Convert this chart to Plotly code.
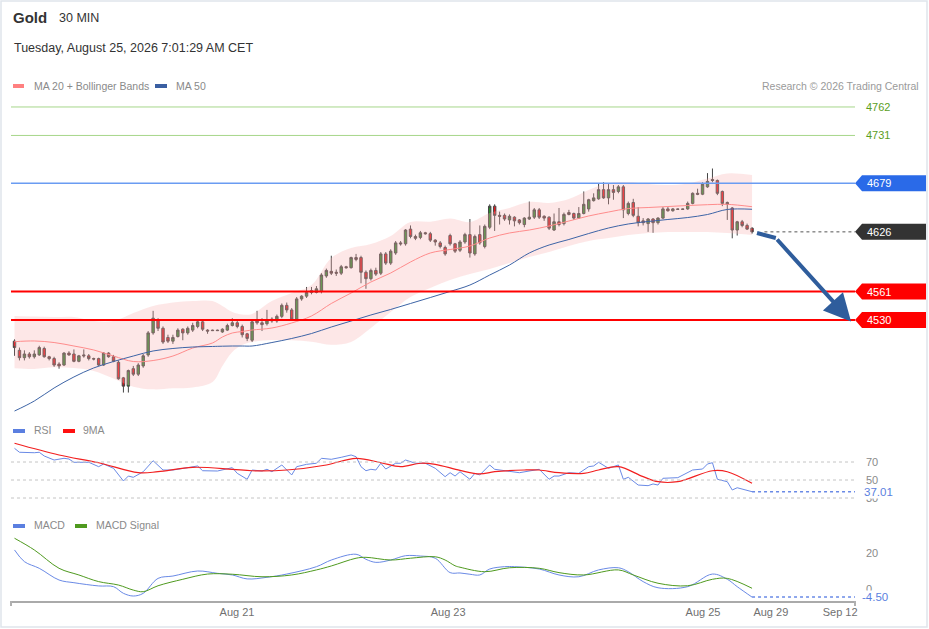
import plotly.graph_objects as go

# ---------------- data ----------------
candle_idx = list(range(150))
opens = [4507,4497,4489,4493,4490,4492,4499,4490,4488,4482,
         4481,4494,4493,4485,4492,4491,4488,4488,4481,4494,
         4490,4484,4467,4458,4477,4471,4480,4492,4516,4530,
         4521,4511,4507,4512,4520,4516,4519,4523,4528,4519,
         4519,4519,4517,4519,4524,4527,4523,4515,4508,4529,
         4527,4526,4531,4529,4534,4546,4541,4531,4553,4556,
         4562,4560,4561,4578,4583,4582,4581,4588,4587,4598,
         4598,4582,4575,4584,4581,4602,4592,4603,4614,4613,
         4629,4621,4620,4625,4624,4617,4614,4609,4622,4613,
         4606,4615,4623,4602,4623,4610,4631,4654,4644,4644,
         4639,4642,4639,4634,4640,4642,4650,4643,4642,4628,
         4637,4635,4647,4646,4641,4646,4651,4660,4662,4672,
         4663,4672,4670,4675,4646,4658,4643,4638,4635,4640,
         4636,4641,4651,4649,4651,4651,4651,4657,4668,4667,
         4675,4683,4682,4670,4658,4652,4628,4637,4633,4630]
highs = [4509,4500,4497,4495,4497,4502,4501,4491,4490,4484,
         4495,4496,4498,4492,4498,4493,4489,4489,4495,4495,
         4492,4486,4468,4476,4480,4483,4493,4518,4540,4532,
         4523,4514,4514,4521,4521,4523,4527,4531,4529,4520,
         4519.5,4519.5,4521,4526,4532,4530,4525,4516,4530,4540,
         4532,4541,4533,4536,4548,4549,4543,4555,4557,4566,
         4566,4567,4581,4586,4600,4585,4590,4589,4599,4602,
         4600,4584,4586,4587,4604,4604,4607,4616,4616,4629,
         4633,4623,4627,4626,4626,4618,4616,4611,4624,4614,
         4617,4625,4640,4623,4633,4634,4656,4656,4648,4646,
         4645,4643,4640,4642,4659,4652,4652,4644,4643,4646,
         4652,4647,4650,4647,4653,4670,4662,4668,4679,4680,
         4678,4677,4677,4677,4659,4662,4653,4641,4641,4641,
         4642,4653,4653,4652,4651.5,4651.5,4659,4669,4673,4680,
         4690,4695,4683,4671,4659,4653,4638,4639,4635,4631]
lows = [4491,4486,4486,4488,4488,4491,4489,4486,4479,4477,
        4480,4491,4484,4484,4489,4486,4486,4480,4480,4489,
        4484,4465,4451,4451,4469,4469,4478,4490,4514,4518,
        4504,4505,4504,4511,4508,4514,4517,4521,4518,4515,
        4518,4518,4516,4518,4523,4521,4511,4507,4506,4525,
        4518,4524,4527,4527,4532,4538,4529,4529,4551,4554,
        4558,4559,4559,4576,4579,4578,4579,4586,4586,4594,
        4570,4564,4573,4578,4579,4590,4590,4601,4611,4611,
        4619,4617,4618,4623,4615,4611,4608,4600,4611,4603,
        4604,4613,4598,4600,4612,4608,4629,4627,4634,4638,
        4634,4632,4634,4631,4639,4640,4640,4638,4628,4627,
        4632,4633,4644,4639,4640,4645,4648,4659,4661,4662,
        4656,4661,4668,4641,4644,4642,4632,4633,4626,4625,
        4634,4640,4648,4648,4650,4650,4650,4656,4666,4666,
        4674,4680,4666,4654,4639,4619,4622,4631,4628,4624]
closes = [4500,4489,4493,4490,4493,4500,4490,4488,4481,4480,
          4494,4492,4485,4491,4491,4488,4487.5,4481,4494,4490,
          4485,4466,4458,4475,4471,4481,4491,4516,4532,4521,
          4506,4507,4511,4519,4516,4521,4524,4528,4520,4518,
          4518.5,4518.5,4520,4524,4527,4523,4514,4510,4528,4527,
          4525,4530,4529,4534,4546,4541,4531,4553,4556,4560,
          4560,4564,4579,4584,4581,4581,4588,4587,4598,4596,
          4582,4575,4584,4580,4602,4592,4605,4614,4613,4628,
          4621,4619,4625,4624,4617,4615,4610,4602,4613,4605,
          4615,4623,4603,4621,4614,4632,4654,4644,4643,4640,
          4643,4638,4636,4641,4642,4650,4642,4641,4630,4637,
          4634,4645,4645,4641,4646,4656,4661,4663,4672,4663,
          4672,4669,4675,4650,4657,4644,4636,4636,4640,4636,
          4641,4651,4649,4651,4650.5,4650.5,4657,4668,4667,4678,
          4681,4682,4668,4657,4656,4628,4637,4633,4629,4626]

band_idx = [0, 4, 8, 12, 16, 20, 24, 28, 32, 36, 40, 42, 44, 46, 48, 52, 56, 60, 64, 68,
            72, 76, 80, 84, 88, 92, 96, 100, 104, 108, 112, 116, 120, 124, 128, 132, 136, 140, 144, 149]
bb_upper = [4534.4, 4533.8, 4533.3, 4533.3, 4528.9, 4528.9, 4537.6, 4545.3, 4549.1, 4550.7,
            4550.7, 4545.3, 4538.7, 4536.0, 4536.6, 4550.7, 4559.4, 4568.1, 4597.5, 4608.4,
            4612.8, 4621.5, 4636.7, 4637.1, 4640.6, 4636.7, 4646.5, 4652.0, 4658.5, 4657.4,
            4661.8, 4671.6, 4679.2, 4680.3, 4678.1, 4677.0, 4678.7, 4684.1, 4689.6, 4687.9]
ma20 = [4506.4, 4507.2, 4505.5, 4501.7, 4497.4, 4490.8, 4484.8, 4485.9, 4490.8, 4499.5,
        4505.0, 4511.5, 4515.9, 4517.5, 4519.1, 4521.3, 4526.8, 4534.4, 4548.0, 4559.4,
        4571.4, 4581.2, 4593.2, 4603.0, 4606.8, 4610.6, 4619.3, 4624.8, 4628.0, 4632.4,
        4637.8, 4643.3, 4647.6, 4651.4, 4652.5, 4653.6, 4654.7, 4655.6, 4656.0, 4653.4]
bb_lower = [4477.4, 4476.7, 4478.5, 4477.7, 4474.5, 4466.3, 4457.4, 4454.5, 4455.6, 4456.5,
            4462.5, 4479.9, 4495.2, 4502.8, 4506.1, 4508.2, 4507.9, 4506.4, 4503.1, 4506.2,
            4521.3, 4538.7, 4555.1, 4564.9, 4573.6, 4580.1, 4585.6, 4592.1, 4598.6, 4604.1,
            4610.6, 4616.1, 4619.3, 4622.6, 4624.8, 4625.9, 4625.9, 4625.9, 4624.8, 4622.6]
ma50 = [4430.9, 4441.8, 4456.0, 4468.0, 4477.8, 4484.8, 4490.8, 4496.3, 4499.0, 4500.6,
        4501.2, 4501.5, 4501.7, 4501.7, 4501.7, 4505.5, 4509.9, 4515.3, 4522.4, 4528.9,
        4535.5, 4541.5, 4548.0, 4554.5, 4561.1, 4568.1, 4579.0, 4589.9, 4603.0, 4611.7,
        4617.7, 4624.2, 4630.2, 4634.6, 4637.3, 4639.5, 4641.6, 4644.9, 4650.4, 4650.6]

rsi_idx = [0, 1, 4, 5, 6, 8, 10, 11, 12, 15, 17, 18, 20, 22, 23, 24, 26, 28, 30, 32,
           35, 37, 38, 41, 44, 45, 47, 48, 50, 51, 52, 54, 56, 57, 59, 61, 62, 64, 66, 68,
           69, 70, 71, 72, 73, 74, 75, 77, 78, 79, 81, 83, 85, 87, 88, 89, 90, 92, 93, 94,
           96, 97, 102, 106, 108, 109, 110, 112, 114, 116, 117, 118, 120, 122, 123, 124, 126, 128, 129, 130,
           131, 134, 137, 139, 140, 141, 142, 144, 145, 146, 149]
rsi_vals = [85.2, 80.8, 80.3, 80.8, 76.7, 72.2, 74.1, 73.3, 69.7, 69.7, 64.8, 67.8, 63.0, 48.9, 54.4, 53.0, 59.2, 71.4, 61.1, 61.1,
            63.7, 65.6, 60.3, 60.0, 63.7, 57.4, 50.8, 61.1, 60.0, 61.9, 59.2, 66.7, 55.6, 64.8, 67.4, 68.6, 74.1, 73.0, 75.2, 77.8,
            75.9, 64.8, 60.3, 61.9, 61.1, 68.6, 62.2, 68.6, 68.6, 72.2, 68.6, 68.6, 63.0, 53.7, 58.1, 54.4, 59.2, 50.8, 57.4, 55.6,
            66.7, 61.9, 58.1, 61.9, 50.8, 54.4, 54.4, 58.1, 57.4, 64.8, 65.6, 69.7, 63.0, 66.7, 50.8, 53.0, 44.4, 43.7, 45.6, 44.4,
            51.9, 52.6, 61.1, 62.2, 67.8, 69.2, 50.8, 48.1, 38.9, 41.4, 37.01]
rsi_ma_idx = [0, 9, 17, 25, 29, 36, 44, 48, 55, 63, 69, 74, 78, 82, 85, 90, 94, 97, 103, 106,
              110, 115, 118, 122, 127, 130, 134, 141, 144, 149]
rsi_ma_vals = [90.8, 77.8, 69.2, 58.1, 59.2, 64.1, 61.9, 60.3, 61.1, 66.7, 74.1, 69.2, 64.8, 68.6, 67.4, 60.7, 56.7, 59.2, 61.1, 61.1,
               58.1, 57.4, 61.1, 64.8, 53.7, 48.1, 48.1, 60.3, 59.2, 46.3]

macd_idx = [0, 2, 5, 9, 12, 17, 20, 22, 24, 26, 29, 32, 37, 41, 44, 47, 51, 55, 61, 64,
            69, 71, 73, 76, 79, 82, 85, 88, 90, 92, 94, 96, 99, 101, 106, 110, 114, 118, 122, 124,
            127, 130, 136, 141, 144, 146, 149]
macd_vals = [21.7, 15.2, 11.5, 5.0, 3.5, 1.7, 1.3, -2.4, -3.9, -2.4, 5.9, 7.2, 10.0, 8.7, 7.8, 5.6, 6.5, 8.3, 12.4, 16.1,
             19.3, 16.5, 14.8, 16.1, 18.5, 18.3, 17.1, 9.1, 8.9, 8.2, 7.8, 11.1, 12.4, 12.4, 11.1, 7.8, 6.8, 10.6, 11.8, 9.6,
             4.1, 0.7, 1.3, 8.3, 5.4, 1.3, -4.5]
signal_idx = [0, 4, 9, 13, 17, 21, 24, 26, 29, 34, 39, 44, 50, 56, 61, 64, 69, 71, 76, 80,
              85, 87, 89, 90, 95, 100, 106, 110, 115, 122, 125, 130, 136, 141, 144, 149]
signal_vals = [28.2, 21.7, 11.5, 7.8, 4.1, 2.2, -0.6, -1.5, 1.8, 5.4, 8.3, 8.2, 6.8, 7.8, 10.6, 12.8, 17.1, 17.6, 16.1, 17.1,
               17.9, 16.1, 12.9, 12.1, 9.6, 11.8, 11.5, 9.1, 7.8, 10.6, 7.8, 3.2, 1.8, 5.4, 5.9, 0.4]

resistance_levels = [4762, 4731]
pivot_level = 4679
last_price = 4626
support_levels = [4561, 4530]
rsi_last = 37.01
macd_last = -4.50
rsi_levels = [70, 50, 30]

forecast_x = [150.0, 153.8, 169.0]
forecast_y = [4624.8, 4619.3, 4528.5]

tick_pos = [44.95, 87.6, 139.1, 152.8, 166.8]
tick_text = ["Aug 21", "Aug 23", "Aug 25", "Aug 29", "Sep 12"]
x_range = [-0.71, 169.8]

# ---------------- layout helpers (pixel -> paper) ----------------
W, H = 929, 629
ML, MR, MT, MB = 11, 74, 60, 28
PW, PH = W - ML - MR, H - MT - MB
def pxx(px):
    return (px - ML) / PW
def pxy(py):
    return (H - MB - py) / PH

FONT = "Liberation Sans, Arial, sans-serif"
GREY = "#8a8a8a"

fig = go.Figure()

# Bollinger band fill
fig.add_trace(go.Scatter(x=band_idx, y=bb_lower, mode="lines", line=dict(width=0, shape="spline"),
                         hoverinfo="skip", showlegend=False))
fig.add_trace(go.Scatter(x=band_idx, y=bb_upper, mode="lines", line=dict(width=0, shape="spline"),
                         fill="tonexty", fillcolor="rgba(250,175,175,0.30)", hoverinfo="skip", showlegend=False))
fig.add_trace(go.Scatter(x=band_idx, y=ma20, mode="lines", line=dict(color="#ff8c8c", width=1, shape="spline"),
                         hoverinfo="skip", showlegend=False))
fig.add_trace(go.Scatter(x=band_idx, y=ma50, mode="lines", line=dict(color="#3d64a6", width=1, shape="spline"),
                         hoverinfo="skip", showlegend=False))

fig.add_trace(go.Candlestick(x=candle_idx, open=opens, high=highs, low=lows, close=closes,
                             increasing=dict(line=dict(color="#444444", width=1), fillcolor="#2e8b2e"),
                             decreasing=dict(line=dict(color="#444444", width=1), fillcolor="#e8151b"),
                             whiskerwidth=0, hoverinfo="skip", showlegend=False))

# forecast arrow (first leg)
fig.add_trace(go.Scatter(x=forecast_x[:2], y=forecast_y[:2], mode="lines",
                         line=dict(color="#2f5d9c", width=4), hoverinfo="skip", showlegend=False))

# RSI pane
fig.add_trace(go.Scatter(x=rsi_idx, y=rsi_vals, yaxis="y2", mode="lines",
                         line=dict(color="#6a8ae6", width=1), hoverinfo="skip", showlegend=False))
fig.add_trace(go.Scatter(x=rsi_ma_idx, y=rsi_ma_vals, yaxis="y2", mode="lines",
                         line=dict(color="#f22020", width=1.2, shape="spline"), hoverinfo="skip", showlegend=False))

# MACD pane
fig.add_trace(go.Scatter(x=macd_idx, y=macd_vals, yaxis="y3", mode="lines",
                         line=dict(color="#6a8ae6", width=1, shape="spline"), hoverinfo="skip", showlegend=False))
fig.add_trace(go.Scatter(x=signal_idx, y=signal_vals, yaxis="y3", mode="lines",
                         line=dict(color="#4f9a1f", width=1, shape="spline"), hoverinfo="skip", showlegend=False))

shapes = []
annotations = []
PRICE_PER_PX = (4775.05 - 4423.3) / (418 - 95)

# level lines
for lv in resistance_levels:
    shapes.append(dict(type="line", xref="paper", yref="y", x0=0, x1=1, y0=lv, y1=lv,
                       line=dict(color="#a6d68a", width=1)))
    annotations.append(dict(xref="paper", yref="y", x=pxx(864), y=lv, text=str(lv), showarrow=False,
                            xanchor="left", yanchor="middle", font=dict(family=FONT, size=11, color="#5a9e1e")))
shapes.append(dict(type="line", xref="paper", yref="y", x0=0, x1=1, y0=pivot_level, y1=pivot_level,
                   line=dict(color="#6a9cf2", width=1.5)))
for lv in support_levels:
    shapes.append(dict(type="line", xref="paper", yref="y", x0=0, x1=1, y0=lv, y1=lv,
                       line=dict(color="#ff0000", width=2)))
shapes.append(dict(type="line", xref="x", yref="y", x0=151.5, x1=x_range[1], y0=last_price, y1=last_price,
                   line=dict(color="#555555", width=1, dash="dot")))

# tags
h = 8 * PRICE_PER_PX
for lv, col in [(pivot_level, "#2a6ae8"), (last_price, "#333333"), (support_levels[0], "#ff0000"), (support_levels[1], "#ff0000")]:
    path = (f"M {pxx(855)},{lv} L {pxx(862)},{lv + h} L {pxx(926)},{lv + h} "
            f"L {pxx(926)},{lv - h} L {pxx(862)},{lv - h} Z")
    shapes.append(dict(type="path", xref="paper", yref="y", path=path, fillcolor=col, line=dict(width=0)))
    annotations.append(dict(xref="paper", yref="y", x=pxx(865), y=lv, text=str(lv), showarrow=False,
                            xanchor="left", yanchor="middle", font=dict(family=FONT, size=11, color="white")))

# forecast arrow head leg
annotations.append(dict(xref="x", yref="y", axref="x", ayref="y", x=forecast_x[2], y=forecast_y[2],
                        ax=forecast_x[1], ay=forecast_y[1], text="", showarrow=True, arrowhead=2,
                        arrowsize=1.35, arrowwidth=4, arrowcolor="#2f5d9c", standoff=0))

# RSI grid lines and labels
for lv in rsi_levels:
    shapes.append(dict(type="line", xref="paper", yref="y2", x0=0, x1=1, y0=lv, y1=lv,
                       line=dict(color="#c4c4c4", width=1, dash="dot")))
    annotations.append(dict(xref="paper", yref="y2", x=pxx(864), y=lv, text=str(lv), showarrow=False,
                            xanchor="left", yanchor="middle", font=dict(family=FONT, size=11, color=GREY)))
shapes.append(dict(type="line", xref="x", yref="y2", x0=149, x1=x_range[1], y0=rsi_last, y1=rsi_last,
                   line=dict(color="#6a8ae6", width=1.5, dash="dot")))
annotations.append(dict(xref="paper", yref="y2", x=pxx(863), y=rsi_last, text=f"{rsi_last:.2f}", showarrow=False,
                        xanchor="left", yanchor="middle", bgcolor="white", borderpad=0,
                        font=dict(family=FONT, size=11.5, color="#5b7fe0")))

# MACD labels
for lv in [20, 0]:
    annotations.append(dict(xref="paper", yref="y3", x=pxx(864), y=lv, text=str(lv), showarrow=False,
                            xanchor="left", yanchor="middle", font=dict(family=FONT, size=11, color=GREY)))
shapes.append(dict(type="line", xref="x", yref="y3", x0=149, x1=x_range[1], y0=macd_last, y1=macd_last,
                   line=dict(color="#6a8ae6", width=1.5, dash="dot")))
annotations.append(dict(xref="paper", yref="y3", x=pxx(861), y=macd_last, text=f"{macd_last:.2f}", showarrow=False,
                        xanchor="left", yanchor="middle", bgcolor="white", borderpad=0,
                        font=dict(family=FONT, size=11.5, color="#5b7fe0")))

# axis end ticks
for xx in [0, 1]:
    shapes.append(dict(type="line", xref="paper", yref="paper", x0=xx, x1=xx, y0=pxy(601), y1=pxy(606),
                       line=dict(color="#b0b0b0", width=2)))

# legend swatches
def swatch(x0, x1, y, col):
    shapes.append(dict(type="rect", xref="paper", yref="paper", x0=pxx(x0), x1=pxx(x1),
                       y0=pxy(y + 2), y1=pxy(y - 2), fillcolor=col, line=dict(width=0)))
def label(x, y, text, size=10.5, color=GREY, anchor="left", bold=False):
    annotations.append(dict(xref="paper", yref="paper", x=pxx(x), y=pxy(y), text=f"<b>{text}</b>" if bold else text,
                            showarrow=False, xanchor=anchor, yanchor="middle",
                            font=dict(family=FONT, size=size, color=color)))

swatch(13, 24, 86, "#ff8080")
label(32, 86, "MA 20 + Bollinger Bands")
swatch(155, 167, 86, "#3a5fa2")
label(174, 86, "MA 50")
label(921, 86, "Research © 2026 Trading Central", color="#9a9a9a", anchor="right")

swatch(13, 25, 431, "#5b7fe0")
label(32, 430, "RSI")
swatch(63, 75, 431, "#ff1010")
label(81, 430, "9MA")
swatch(13, 25, 526, "#5b7fe0")
label(32, 525, "MACD")
swatch(75, 87, 526, "#4f9a1f")
label(94, 525, "MACD Signal")

label(11, 18, "Gold", size=15, color="#333333", bold=True)
label(57, 18, "30 MIN", size=12.5, color="#333333")
label(12, 48, "Tuesday, August 25, 2026 7:01:29 AM CET", size=12.5, color="#333333")

# outer border
shapes.append(dict(type="rect", xref="paper", yref="paper", x0=pxx(1), x1=pxx(927), y0=pxy(627), y1=pxy(1),
                   line=dict(color="#dfe5ec", width=1.5), fillcolor="rgba(0,0,0,0)", layer="below"))

fig.update_layout(
    width=W, height=H, margin=dict(l=ML, r=MR, t=MT, b=MB),
    paper_bgcolor="white", plot_bgcolor="white",
    showlegend=False, shapes=shapes, annotations=annotations,
    xaxis=dict(range=x_range, domain=[0, 1], anchor="y3", showgrid=False, zeroline=False,
               showline=True, linecolor="#aaaaaa", linewidth=2, ticks="",
               tickvals=tick_pos, ticktext=tick_text, tickfont=dict(family=FONT, size=11, color="#707070"),
               rangeslider=dict(visible=False), fixedrange=True),
    yaxis=dict(domain=[pxy(418), pxy(95)], range=[4423.3, 4775.05], visible=False, fixedrange=True),
    yaxis2=dict(domain=[pxy(505), pxy(440)], range=[50 - 25 / 0.9, 50 + 40 / 0.9], visible=False, anchor="x", fixedrange=True),
    yaxis3=dict(domain=[0, pxy(530)], range=[(589 - 601) / 1.8, (589 - 530) / 1.8], visible=False, anchor="x", fixedrange=True),
    font=dict(family=FONT),
)

fig.write_html("out.html", config={"displayModeBar": False},
               post_script="document.body.style.margin='0';document.body.style.overflow='hidden';")
